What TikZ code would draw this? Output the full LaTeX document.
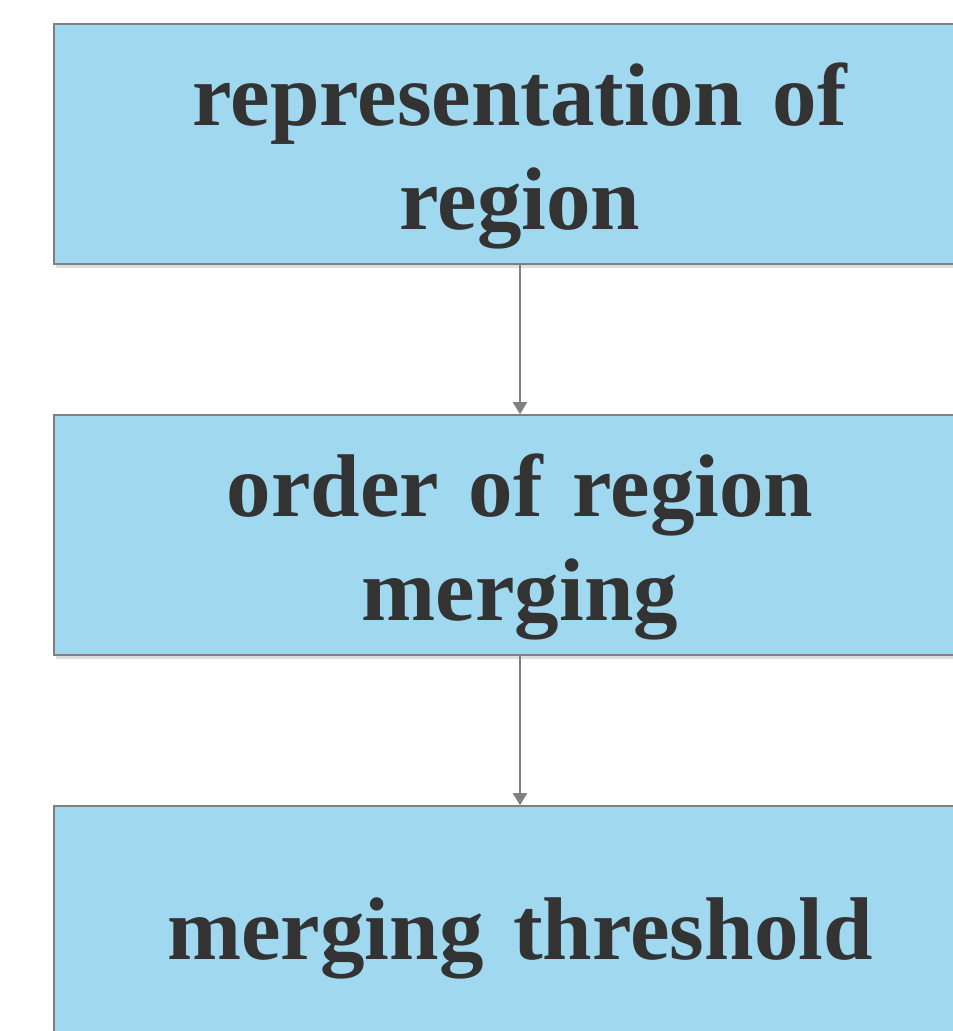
\documentclass[tikz,border=0pt]{standalone}
\usepackage{fontspec}
\setmainfont{Liberation Serif}[WordSpace=0.78]
\usetikzlibrary{positioning, arrows.meta}
\definecolor{boxblue}{RGB}{160, 216, 239}
\definecolor{edgegray}{RGB}{128, 128, 128}
\definecolor{shadegray}{RGB}{222, 222, 222}
\definecolor{inkgray}{RGB}{51, 51, 51}
\tikzset{
  stage/.style={draw=edgegray, line width=1.6pt, fill=boxblue,
                minimum width=932pt, minimum height=240pt, inner sep=0pt},
  shade/.style={fill=shadegray, minimum width=932pt, minimum height=240pt,
                inner sep=0pt},
  caption/.style={inner sep=0pt, text width=900pt, align=center, text=inkgray,
                  font=\fontsize{89}{104}\selectfont\bfseries},
  arr/.style={-{Triangle[length=12pt, width=14pt]}, edgegray, line width=1.8pt},
}

\begin{document}
\begin{tikzpicture}[x=1pt, y=1pt]
  \clip (0,0) rectangle (953,-1031);
  \useasboundingbox (0,0) rectangle (953,-1031);

  % drop shadows
  \foreach \y in {-144, -535, -926} {
    \node[shade] at (522, \y-4) {};
  }

  % stages
  \node[stage] (repr) at (520,-144) {};
  \node[stage] (order) at (520,-535) {};
  \node[stage] (thresh) at (520,-926) {};

  % texts (set a little below the box centres)
  \node[caption] (reprtxt) at ([yshift=-12pt]repr.center) {representation of\\region};
  \node[caption] (ordertxt) at ([yshift=-12pt]order.center) {order of region\\merging};
  \node[caption] (threshtxt) at ([yshift=-12pt]thresh.center) {merging threshold};

  % arrows
  \draw[arr] (repr.south) -- (order.north);
  \draw[arr] (order.south) -- (thresh.north);
\end{tikzpicture}
\end{document}
